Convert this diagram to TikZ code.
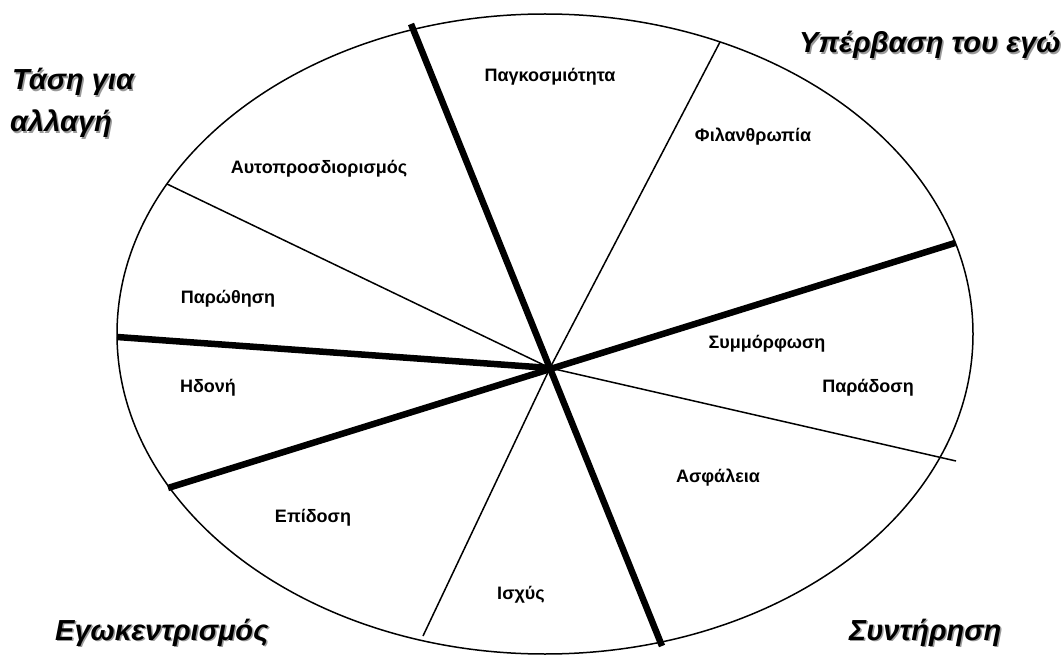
\documentclass[tikz,border=0pt]{standalone}
\usepackage{fontspec}
\setmainfont{Liberation Sans}
\usepackage{tikz}
\definecolor{shade}{HTML}{9A9A9A}
\tikzset{
  value/.style={font=\fontsize{18}{22}\selectfont\bfseries, inner sep=0pt, anchor=base},
  group/.style={font=\fontsize{29}{34}\selectfont\bfseries\itshape, inner sep=0pt, anchor=base west},
  groupshadow/.style={group, text=shade},
  divider/.style={line width=6.5pt},
  split/.style={line width=1.5pt},
}

\begin{document}
\begin{tikzpicture}[x=1pt, y=-1pt]
    \useasboundingbox (0,0) rectangle (1063,655);
    \draw[line width=1.5pt] (545,334) ellipse [x radius=428pt, y radius=320pt];
    % spokes
    \coordinate (hub) at (550,368);
    \coordinate (tA) at (411,24);
    \coordinate (bA) at (662,646);
    \coordinate (rB) at (955,243);
    \coordinate (lB) at (168,488);
    \coordinate (lC) at (117,337);
    \coordinate (ulD) at (167,184);
    \coordinate (rD) at (956,461);
    \coordinate (urE) at (720,42);
    \coordinate (lE) at (423,636);
    \draw[split] (ulD) -- (hub);
    \draw[split] (hub) -- (rD);
    \draw[split] (urE) -- (hub);
    \draw[split] (hub) -- (lE);
    \draw[divider] (tA) -- (bA);
    \draw[divider] (lB) -- (rB);
    \draw[divider] (lC) -- (hub);
    % values
    \node[value] (v1) at (550,82) {Παγκοσμιότητα};
    \node[value] (v2) at (753,142) {Φιλανθρωπία};
    \node[value] (v3) at (319,174) {Αυτοπροσδιορισμός};
    \node[value] (v4) at (228,303) {Παρώθηση};
    \node[value] (v5) at (208,392) {Ηδονή};
    \node[value] (v6) at (767,348) {Συμμόρφωση};
    \node[value] (v7) at (868,392) {Παράδοση};
    \node[value] (v8) at (718,482) {Ασφάλεια};
    \node[value] (v9) at (313,522) {Επίδοση};
    \node[value] (v10) at (521,599) {Ισχύς};
    % higher order groups
    \node[groupshadow] (g1s) at (13.5,91.5) {Τάση για};
    \node[group] (g1) at (12,90) {Τάση για};
    \node[groupshadow] (g2s) at (11.5,133.5) {αλλαγή};
    \node[group] (g2) at (10,132) {αλλαγή};
    \node[groupshadow] (g3s) at (800.5,54.5) {Υπέρβαση του εγώ};
    \node[group] (g3) at (799,53) {Υπέρβαση του εγώ};
    \node[groupshadow] (g4s) at (56.5,641.5) {Εγωκεντρισμός};
    \node[group] (g4) at (55,640) {Εγωκεντρισμός};
    \node[groupshadow] (g5s) at (850.5,641.5) {Συντήρηση};
    \node[group] (g5) at (849,640) {Συντήρηση};
\end{tikzpicture}
\end{document}
